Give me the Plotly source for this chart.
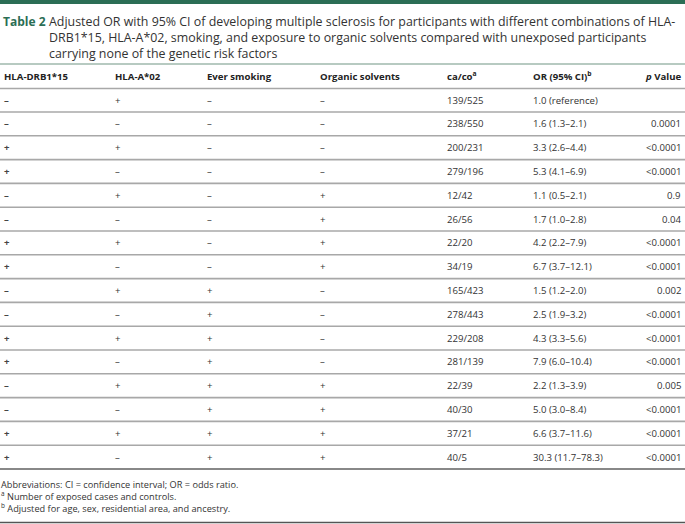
import plotly.graph_objects as go

W, H = 685, 524
FONT = "Open Sans"

title_lines = [
    "Adjusted OR with 95% CI of developing multiple sclerosis for participants with different combinations of HLA-",
    "DRB1*15, HLA-A*02, smoking, and exposure to organic solvents compared with unexposed participants",
    "carrying none of the genetic risk factors",
]

headers = ["HLA-DRB1*15", "HLA-A*02", "Ever smoking", "Organic solvents",
           "ca/co<sup>a</sup>", "OR (95% CI)<sup>b</sup>", "<i>p</i> Value"]

drb1 = ["–", "–", "+", "+", "–", "–", "+", "+", "–", "–", "+", "+", "–", "–", "+", "+"]
hla_a = ["+", "–", "+", "–", "+", "–", "+", "–", "+", "–", "+", "–", "+", "–", "+", "–"]
smoking = ["–", "–", "–", "–", "–", "–", "–", "–", "+", "+", "+", "+", "+", "+", "+", "+"]
solvents = ["–", "–", "–", "–", "+", "+", "+", "+", "–", "–", "–", "–", "+", "+", "+", "+"]
caco = ["139/525", "238/550", "200/231", "279/196", "12/42", "26/56", "22/20", "34/19",
        "165/423", "278/443", "229/208", "281/139", "22/39", "40/30", "37/21", "40/5"]
or_ci = ["1.0 (reference)", "1.6 (1.3–2.1)", "3.3 (2.6–4.4)", "5.3 (4.1–6.9)",
         "1.1 (0.5–2.1)", "1.7 (1.0–2.8)", "4.2 (2.2–7.9)", "6.7 (3.7–12.1)",
         "1.5 (1.2–2.0)", "2.5 (1.9–3.2)", "4.3 (3.3–5.6)", "7.9 (6.0–10.4)",
         "2.2 (1.3–3.9)", "5.0 (3.0–8.4)", "6.6 (3.7–11.6)", "30.3 (11.7–78.3)"]
pval = ["", "0.0001", "<0.0001", "<0.0001", "0.9", "0.04", "<0.0001", "<0.0001",
        "0.002", "<0.0001", "<0.0001", "<0.0001", "0.005", "<0.0001", "<0.0001", "<0.0001"]

footnote_marks = ["", "a", "b"]
footnotes = [
    "Abbreviations: CI = confidence interval; OR = odds ratio.",
    "Number of exposed cases and controls.",
    "Adjusted for age, sex, residential area, and ancestry.",
]

col_x = [2, 113, 205, 318, 445, 531]
pcol_x = 683
row0_y = 100
row_h = 23.8
GREEN = "#2b6e55"
TXT = "#333333"
LINE = "#a8a8a8"

fig = go.Figure()
ann = []
shapes = []

def text(x, y, s, size=10, color=TXT, anchor="left", bold=False, pad=1, align="left"):
    if bold:
        s = "<b>" + s + "</b>"
    ann.append(dict(x=x, y=y, xref="x", yref="y", text=s, showarrow=False,
                    xanchor=anchor, yanchor="middle", borderpad=pad, align=align,
                    font=dict(family=FONT, size=size, color=color)))

def hline(y, width=1.2, color=LINE, x0=0, x1=W):
    shapes.append(dict(type="line", xref="x", yref="y", x0=x0, x1=x1, y0=y, y1=y,
                       line=dict(color=color, width=width)))

# top bar
shapes.append(dict(type="rect", xref="x", yref="y", x0=0, x1=W, y0=0, y1=4,
                   fillcolor=GREEN, line=dict(width=0)))

# title
text(1, 21, "Table 2", size=12, color=GREEN, bold=True)
for i, t in enumerate(title_lines):
    text(47, 21 + 16.2 * i, t, size=12.4, color="#333333")

# header
hline(64, 1.3, "#9fb8ad")
for i, h in enumerate(headers[:6]):
    text(col_x[i], 76, h, size=9.6, color="#222222", bold=True)
text(pcol_x, 76, headers[6], size=9.6, color="#222222", anchor="right", bold=True)
hline(88.5, 1.3)

cols = [drb1, hla_a, smoking, solvents, caco, or_ci]
for r in range(len(caco)):
    y = row0_y + r * row_h
    for c, data in enumerate(cols):
        text(col_x[c], y, data[r], size=9.6, bold=(c == 0),
             color="#444444" if c == 0 else TXT)
    if pval[r]:
        text(pcol_x, y, pval[r], size=9.6, anchor="right")
    last = r == len(caco) - 1
    hline(y + 12, 2 if last else 1.6, "#888888" if last else LINE)

foot_text = "<br>".join(
    (("<sup>" + m + "</sup> ") if m else "") + f
    for m, f in zip(footnote_marks, footnotes)
)
text(0, 496, foot_text, size=9.2, pad=0)

hline(522.5, 1.3, "#555555")

fig.update_layout(
    width=W, height=H, margin=dict(l=0, r=0, t=0, b=0),
    paper_bgcolor="white", plot_bgcolor="white",
    xaxis=dict(range=[0, W], visible=False, fixedrange=True),
    yaxis=dict(range=[H, 0], visible=False, fixedrange=True),
    annotations=ann, shapes=shapes, showlegend=False,
)
fig.write_html(
    "out.html",
    config={"displayModeBar": False},
    post_script="document.body.style.margin='0';document.body.style.overflow='hidden';",
)
